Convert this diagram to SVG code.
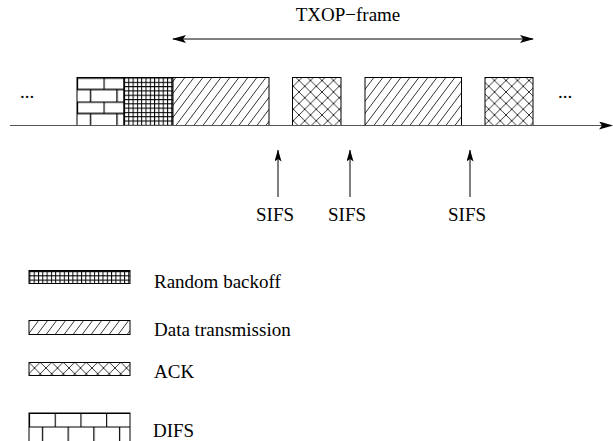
<svg xmlns="http://www.w3.org/2000/svg" width="613" height="441" viewBox="0 0 613 441">
  <style>
    text { font-family: "Liberation Serif", "Times New Roman", serif; fill: #000; }
    .lbl { font-size: 19px; }
    .blk { stroke: #000; stroke-width: 1; }
    .conn { stroke: #000; stroke-width: 1; fill: none; }
  </style>
  <defs>
    <!-- brick fill used for DIFS -->
    <pattern id="brick" patternUnits="userSpaceOnUse" x="77" y="77.5" width="26.5" height="24">
      <rect width="26.5" height="24" fill="#fff"/>
      <path d="M0 0.5H26.5M0 12H26.5M0.5 0V12M13.5 12V24" stroke="#000" stroke-width="1.3" fill="none"/>
    </pattern>
    <pattern id="brickL" patternUnits="userSpaceOnUse" x="29" y="413" width="25.7" height="28">
      <rect width="25.7" height="28" fill="#fff"/>
      <path d="M0 0.5H25.7M0 14H25.7M0.5 0V14M13.5 14V28" stroke="#000" stroke-width="1.2" fill="none"/>
    </pattern>
    <!-- fine grid used for random backoff -->
    <pattern id="grid" patternUnits="userSpaceOnUse" x="124" y="77.5" width="4.3" height="4.3">
      <rect width="4.3" height="4.3" fill="#fff"/>
      <path d="M0.5 0V4.3M0 0.5H4.3" stroke="#000" stroke-width="1" fill="none"/>
    </pattern>
    <!-- diagonal hatch used for data transmission -->
    <pattern id="hatch" patternUnits="userSpaceOnUse" width="9" height="12">
      <rect width="9" height="12" fill="#fff"/>
      <path d="M0 12L9 0M-9 12L0 0M9 12L18 0" stroke="#000" stroke-width="0.8" fill="none"/>
    </pattern>
    <!-- crosshatch used for ACK -->
    <pattern id="cross" patternUnits="userSpaceOnUse" width="11.5" height="11.5">
      <rect width="11.5" height="11.5" fill="#fff"/>
      <path d="M0 0L11.5 11.5M0 11.5L11.5 0" stroke="#000" stroke-width="0.8" fill="none"/>
    </pattern>
    <marker id="head" viewBox="0 0 14 8" refX="13" refY="4" markerWidth="14" markerHeight="8" markerUnits="userSpaceOnUse" orient="auto-start-reverse">
      <path d="M0 0L14 4L0 8L3 4Z" fill="#000"/>
    </marker>
    <marker id="headS" viewBox="0 0 12 7" refX="11.5" refY="3.5" markerWidth="12" markerHeight="7" markerUnits="userSpaceOnUse" orient="auto">
      <path d="M0 0L12 3.5L0 7L2.5 3.5Z" fill="#000"/>
    </marker>
  </defs>

  <!-- timeline blocks -->
  <g id="difs-block"><rect class="blk" x="77" y="77.5" width="47" height="48" fill="url(#brick)"/></g>
  <g id="backoff-block"><rect class="blk" x="124" y="77.5" width="49" height="48" fill="url(#grid)"/></g>
  <g id="data-1"><rect class="blk" x="173" y="77.5" width="96" height="48" fill="url(#hatch)"/></g>
  <g id="ack-1"><rect class="blk" x="292.5" y="77.5" width="48.5" height="48" fill="url(#cross)"/></g>
  <g id="data-2"><rect class="blk" x="365" y="77.5" width="96.5" height="48" fill="url(#hatch)"/></g>
  <g id="ack-2"><rect class="blk" x="485" y="77.5" width="48" height="48" fill="url(#cross)"/></g>

  <g id="dots-left"><text class="lbl" x="27" y="98" text-anchor="middle">...</text></g>
  <g id="dots-right"><text class="lbl" x="565" y="98" text-anchor="middle">...</text></g>

  <g id="txop-label"><text class="lbl" x="348" y="21" text-anchor="middle">TXOP−frame</text></g>

  <!-- connectors -->
  <g id="connectors">
    <line x1="10" y1="125.5" x2="612" y2="125.5" stroke="#555" stroke-width="1.2" marker-end="url(#head)"/>
    <line class="conn" x1="173" y1="39" x2="533" y2="39" marker-start="url(#head)" marker-end="url(#head)"/>
    <line class="conn" x1="278" y1="197" x2="278" y2="150" marker-end="url(#headS)"/>
    <line class="conn" x1="350" y1="197" x2="350" y2="150" marker-end="url(#headS)"/>
    <line class="conn" x1="470" y1="197" x2="470" y2="150" marker-end="url(#headS)"/>
  </g>

  <g id="sifs-1"><text class="lbl" x="275" y="221" text-anchor="middle">SIFS</text></g>
  <g id="sifs-2"><text class="lbl" x="347" y="221" text-anchor="middle">SIFS</text></g>
  <g id="sifs-3"><text class="lbl" x="467" y="221" text-anchor="middle">SIFS</text></g>

  <!-- legend -->
  <g id="legend-backoff">
    <rect class="blk" x="29" y="270.5" width="101" height="13" fill="url(#grid)"/>
    <text class="lbl" x="154" y="288">Random backoff</text>
  </g>
  <g id="legend-data">
    <rect class="blk" x="29" y="320.5" width="101" height="14" fill="url(#hatch)"/>
    <text class="lbl" x="154" y="336">Data transmission</text>
  </g>
  <g id="legend-ack">
    <rect class="blk" x="29" y="362.5" width="101" height="13" fill="url(#cross)"/>
    <text class="lbl" x="154" y="378">ACK</text>
  </g>
  <g id="legend-difs">
    <rect class="blk" x="29" y="413" width="101" height="30" fill="url(#brickL)"/>
    <text class="lbl" x="153" y="437">DIFS</text>
  </g>
</svg>
